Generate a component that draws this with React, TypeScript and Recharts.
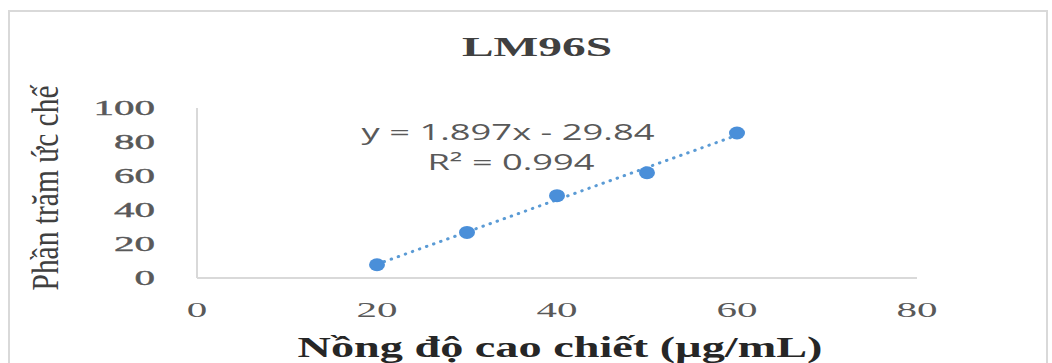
import { ComposedChart, Scatter, Line, XAxis, YAxis } from 'recharts'

// nồng độ cao chiết (µg/mL) và phần trăm ức chế tương ứng
const concentration = [20, 30, 40, 50, 60]
const inhibition = [7.8, 26.8, 48.4, 61.9, 85.3]

const xTicks = [0, 20, 40, 60, 80]
const yTicks = [0, 20, 40, 60, 80, 100]

// đường xu hướng tuyến tính
const SLOPE = 1.897
const INTERCEPT = -29.84
const R2 = 0.994

const points = concentration.map((x, i) => ({ x, y: inhibition[i] }))
const trendX = [concentration[0], concentration[concentration.length - 1]]
const trend = trendX.map(x => ({ x, y: SLOPE * x + INTERCEPT }))

const GREY = '#595959'
const AXIS = '#d9d9d9'
const BLUE = '#4a8fd9'
const SERIF = '"Liberation Serif", "Times New Roman", serif'
const SANS = '"Open Sans", "Liberation Sans", sans-serif'

const YTick = ({ x, y, payload }: any) => {
  const s = String(payload.value)
  return (
    <text x={x} y={y + 7} textAnchor="end" fill={GREY} fontFamily={SERIF} fontSize={21}
      stroke={GREY} strokeWidth={0.4}
      textLength={s.length * 20.5} lengthAdjust="spacingAndGlyphs">
      {s}
    </text>
  )
}

const XTick = ({ x, y, payload }: any) => {
  const s = String(payload.value)
  return (
    <text x={x} y={y + 7} textAnchor="middle" fill={GREY} fontFamily={SERIF} fontSize={21}
      textLength={s.length * 20.5} lengthAdjust="spacingAndGlyphs">
      {s}
    </text>
  )
}

const Dot = ({ cx, cy }: any) => <ellipse cx={cx} cy={cy} rx={8} ry={6.5} fill={BLUE} />

export default function App() {
  return (
    <div style={{ position: 'absolute', left: 0, top: 0, width: 1052, height: 363, background: '#fff', overflow: 'hidden' }}>
      <div style={{ position: 'absolute', left: 8, top: 10, width: 1036, height: 400, border: `2px solid ${AXIS}` }} />
      <ComposedChart width={1052} height={363} margin={{ top: 108, right: 135, bottom: 45, left: 0 }}
        style={{ position: 'absolute', left: 0, top: 0 }}>
        <XAxis type="number" dataKey="x" domain={[0, 80]} ticks={xTicks} height={40}
          axisLine={{ stroke: AXIS, strokeWidth: 2 }} tickLine={false} tickSize={0} tickMargin={32}
          tick={<XTick />} interval={0} />
        <YAxis type="number" domain={[0, 100]} ticks={yTicks} width={197}
          axisLine={{ stroke: AXIS, strokeWidth: 2 }} tickLine={false} tickSize={0} tickMargin={42}
          tick={<YTick />} interval={0} />
        <Line data={trend} dataKey="y" type="linear" stroke="#5b9bd5" strokeWidth={3}
          strokeDasharray="0.5 7" strokeLinecap="round" dot={false} isAnimationActive={false} />
        <Scatter data={points} dataKey="y" fill={BLUE} shape={<Dot />} isAnimationActive={false} />
      </ComposedChart>
      <svg width={1052} height={363} style={{ position: 'absolute', left: 0, top: 0, pointerEvents: 'none' }}>
        <text x={537} y={56} textAnchor="middle" fill="#404040" fontFamily={SERIF} fontWeight="bold"
          fontSize={27} textLength={150} lengthAdjust="spacingAndGlyphs">LM96S</text>
        <text x={508} y={140} textAnchor="middle" fill={GREY} fontFamily={SANS} fontSize={22}
          textLength={293} lengthAdjust="spacingAndGlyphs">{`y = ${SLOPE}x - ${Math.abs(INTERCEPT)}`}</text>
        <text x={511} y={170} textAnchor="middle" fill={GREY} fontFamily={SANS} fontSize={22}
          textLength={167} lengthAdjust="spacingAndGlyphs">{`R² = ${R2}`}</text>
        <text transform="translate(58,188) rotate(-90)" textAnchor="middle" fill="#404040" fontFamily={SERIF}
          fontSize={38} textLength={205} lengthAdjust="spacingAndGlyphs">Phần trăm ức chế</text>
        <text x={560} y={357} textAnchor="middle" fill="#262626" fontFamily={SERIF} fontWeight="bold"
          fontSize={29} textLength={525} lengthAdjust="spacingAndGlyphs">Nồng độ cao chiết (µg/mL)</text>
      </svg>
    </div>
  )
}
